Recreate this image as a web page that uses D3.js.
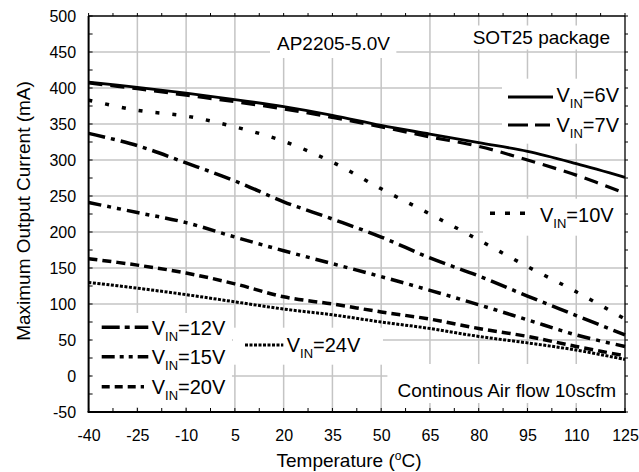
<!DOCTYPE html>
<html><head><meta charset="utf-8">
<script src="https://cdn.jsdelivr.net/npm/d3@7"></script>
<style>
html,body{margin:0;padding:0;background:#fff;}
svg{display:block;}
text{font-family:"Liberation Sans",Arial,sans-serif;fill:#000;}
</style></head>
<body>
<svg id="chart" width="639" height="472"></svg>
<script>
// ---- data ----
const temps = [-40, -25, -10, 5, 20, 35, 50, 65, 80, 95, 110, 125];
const vin6  = [408, 401, 393, 384, 374, 362, 348, 336, 324, 312, 295, 276];
const vin7  = [407, 399, 390, 381, 371, 359, 346, 332, 319, 300, 279, 254];
const vin10 = [383, 369, 361, 346, 326, 297, 260, 225, 189, 152, 117, 79];
const vin12 = [337, 320, 296, 271, 242, 218, 193, 164, 139, 111, 84, 57];
const vin15 = [241, 227, 213, 193, 174, 156, 138, 119, 99, 78, 57, 41];
const vin20 = [163, 154, 143, 128, 110, 100, 89, 79, 66, 55, 41, 28];
const vin24 = [130, 122, 113, 103, 93, 85, 75, 66, 55, 46, 36, 23];
const xTicks = [-40, -25, -10, 5, 20, 35, 50, 65, 80, 95, 110, 125];
const yTicks = [-50, 0, 50, 100, 150, 200, 250, 300, 350, 400, 450, 500];
const seriesNames = ["6V", "7V", "10V", "12V", "15V", "20V", "24V"];

// ---- styles ----
const styles = {
  "6V":  {dash: null, w: 2.8, legDash: null},
  "7V":  {dash: "14,8", w: 3.2, legDash: "20,7"},
  "10V": {dash: "4,13", w: 3.5, legDash: "5,10"},
  "12V": {dash: "17,6,4,6", w: 3.5, legDash: "18,5,5,5"},
  "15V": {dash: "13,6,4,6,4,6", w: 3.5, legDash: "13,5,4,5,4,5"},
  "20V": {dash: "9,5", w: 3.5, legDash: "8,5"},
  "24V": {dash: "3,1.5", w: 3, legDash: "3,1.5"}
};
const valuesBy = {"6V": vin6, "7V": vin7, "10V": vin10, "12V": vin12, "15V": vin15, "20V": vin20, "24V": vin24};

const svg = d3.select("#chart");
const x = d3.scaleLinear().domain([-40, 125]).range([88.6, 625]);
const y = d3.scaleLinear().domain([-50, 500]).range([412, 16]);
const fmt = d => String(d);

// gridlines
const grid = svg.append("g");
grid.selectAll("line.v").data(xTicks.slice(1, -1)).join("line")
  .attr("x1", d => x(d)).attr("x2", d => x(d)).attr("y1", y(500)).attr("y2", y(-50))
  .attr("stroke", "#c4c4c4").attr("stroke-width", 1.5);
grid.selectAll("line.h").data(yTicks.slice(1, -1)).join("line")
  .attr("y1", d => y(d)).attr("y2", d => y(d)).attr("x1", x(-40)).attr("x2", x(125))
  .attr("stroke", "#c4c4c4").attr("stroke-width", 1.5);

const boxLayer = svg.append("g");
const lineLayer = svg.append("g");
const textLayer = svg.append("g");

function whiteBox(node, pad) {
  const b = node.getBBox();
  boxLayer.append("rect")
    .attr("x", b.x - pad[0]).attr("y", b.y - pad[1])
    .attr("width", b.width + pad[0] + pad[2]).attr("height", b.height + pad[1] + pad[3])
    .attr("fill", "#fff");
}

// series
const line = d3.line().x((d, i) => x(temps[i])).y(d => y(d)).curve(d3.curveCatmullRom.alpha(0.5));
seriesNames.forEach(n => {
  lineLayer.append("path").datum(valuesBy[n])
    .attr("d", line).attr("fill", "none").attr("stroke", "#000")
    .attr("stroke-width", styles[n].w)
    .attr("stroke-dasharray", styles[n].dash);
});

// frame
const frame = svg.append("g");
frame.append("line").attr("x1", x(-40)).attr("x2", x(-40)).attr("y1", y(500)).attr("y2", y(-50)).attr("stroke", "#000").attr("stroke-width", 2);
frame.append("line").attr("x1", x(-40) - 1).attr("x2", x(125) + 1).attr("y1", y(-50)).attr("y2", y(-50)).attr("stroke", "#000").attr("stroke-width", 2);
frame.append("line").attr("x1", x(-40)).attr("x2", x(125)).attr("y1", y(500)).attr("y2", y(500)).attr("stroke", "#000").attr("stroke-width", 1.3);
frame.append("line").attr("x1", x(125)).attr("x2", x(125)).attr("y1", y(500)).attr("y2", y(-50)).attr("stroke", "#000").attr("stroke-width", 1.3);

// minor ticks
const yMinor = d3.range(-50, 501, 25);
const xMinor = d3.range(-40, 125.1, 7.5);
frame.selectAll("line.yl").data(yMinor).join("line")
  .attr("x1", x(-40)).attr("x2", x(-40) + 4).attr("y1", d => y(d)).attr("y2", d => y(d))
  .attr("stroke", "#000").attr("stroke-width", 1);
frame.selectAll("line.yr").data(yMinor).join("line")
  .attr("x1", x(125)).attr("x2", x(125) + 3).attr("y1", d => y(d)).attr("y2", d => y(d))
  .attr("stroke", "#000").attr("stroke-width", 1);
frame.selectAll("line.xb").data(xMinor).join("line")
  .attr("x1", d => x(d)).attr("x2", d => x(d)).attr("y1", y(-50)).attr("y2", y(-50) - 4)
  .attr("stroke", "#000").attr("stroke-width", 1);
frame.selectAll("line.xt").data(xMinor).join("line")
  .attr("x1", d => x(d)).attr("x2", d => x(d)).attr("y1", y(500)).attr("y2", y(500) - 3)
  .attr("stroke", "#000").attr("stroke-width", 1);

// axes labels via d3 axes
const xAxis = svg.append("g").attr("transform", `translate(0,${y(-50)})`)
  .call(d3.axisBottom(x).tickValues(xTicks).tickSize(0).tickPadding(18).tickFormat(fmt));
xAxis.select(".domain").remove();
xAxis.selectAll("text").attr("font-size", 16).attr("font-family", "Liberation Sans, Arial, sans-serif");

const yAxis = svg.append("g").attr("transform", `translate(${x(-40)},0)`)
  .call(d3.axisLeft(y).tickValues(yTicks).tickSize(0).tickPadding(12.5).tickFormat(fmt));
yAxis.select(".domain").remove();
yAxis.selectAll("text").attr("font-size", 16).attr("font-family", "Liberation Sans, Arial, sans-serif");

// axis titles
const xt = svg.append("text").attr("x", 349).attr("y", 467).attr("text-anchor", "middle").attr("font-size", 19);
xt.append("tspan").text("Temperature (");
xt.append("tspan").attr("font-size", 12).attr("dy", -7).text("o");
xt.append("tspan").attr("dy", 7).text("C)");
svg.append("text").attr("transform", "translate(30,211) rotate(-90)")
  .attr("text-anchor", "middle").attr("font-size", 19).text("Maximum Output Current (mA)");

// annotations
const t1 = textLayer.append("text").attr("x", 277).attr("y", 50).attr("font-size", 19).text("AP2205-5.0V");
whiteBox(t1.node(), [7, 19, 6, 4]);
const t2 = textLayer.append("text").attr("x", 610).attr("y", 43.5).attr("text-anchor", "end").attr("font-size", 19).text("SOT25 package");
whiteBox(t2.node(), [7, 1, 8, 2]);
const t3 = textLayer.append("text").attr("x", 616).attr("y", 397).attr("text-anchor", "end").attr("font-size", 19).text("Continous Air flow 10scfm");
whiteBox(t3.node(), [10, 16, 9, 2]);

// legends
function legendItem(g, name, x1, x2, ly, tx, base) {
  g.append("line").attr("x1", x1).attr("x2", x2).attr("y1", ly).attr("y2", ly)
    .attr("stroke", "#000").attr("stroke-width", styles[name].w)
    .attr("stroke-dasharray", styles[name].legDash);
  const t = g.append("text").attr("x", tx).attr("y", base).attr("font-size", 20);
  t.append("tspan").text("V");
  t.append("tspan").attr("font-size", 13).attr("dy", 6).text("IN");
  t.append("tspan").attr("dy", -6).text("=" + name);
}
const lg1 = textLayer.append("g");
legendItem(lg1, "6V", 508, 553, 97, 556.5, 101.7);
legendItem(lg1, "7V", 508, 550, 125, 556.5, 131.7);
whiteBox(lg1.node(), [6, 5, 7, 3]);

const lg2 = textLayer.append("g");
legendItem(lg2, "10V", 490, 525, 213.3, 540, 221.7);
whiteBox(lg2.node(), [7, 5, 12, 5]);

const lg3 = textLayer.append("g");
legendItem(lg3, "12V", 101.7, 148.3, 327.3, 151.7, 335);
legendItem(lg3, "15V", 101.7, 148.3, 356.7, 151.7, 364);
legendItem(lg3, "20V", 101.7, 144, 386.7, 151.7, 394);
whiteBox(lg3.node(), [11, 4, 6, 4]);

const lg4 = textLayer.append("g");
legendItem(lg4, "24V", 245, 283.3, 345, 286.7, 351.7);
whiteBox(lg4.node(), [12, 6, 22, 4]);
</script>
</body></html>
